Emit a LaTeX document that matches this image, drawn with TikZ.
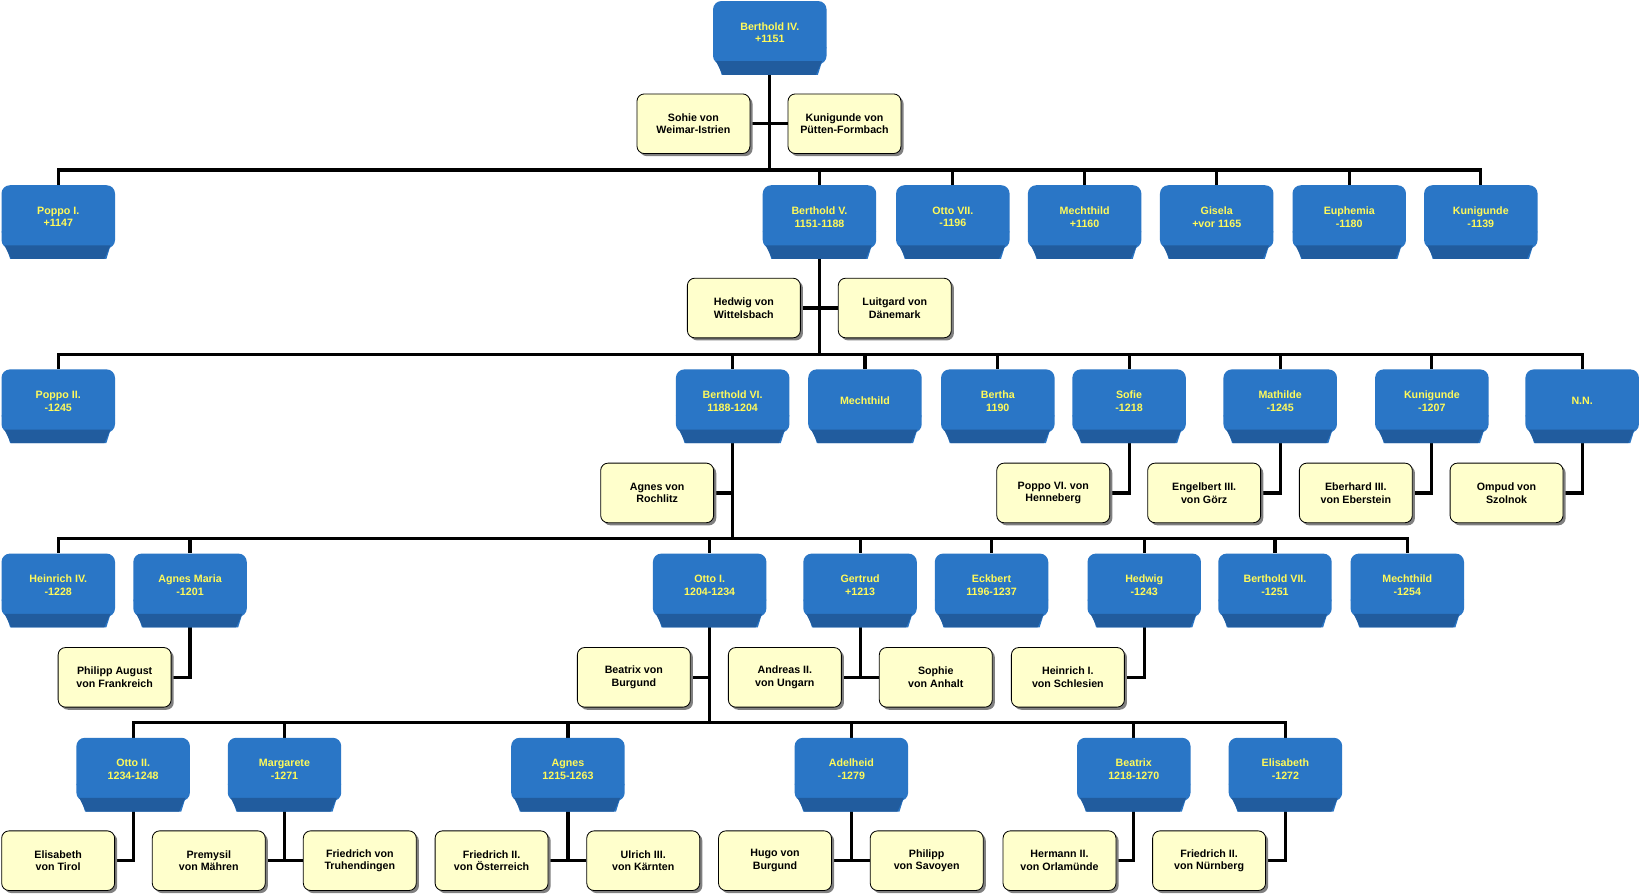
\documentclass[tikz,border=0pt]{standalone}
\usepackage{fontspec}
\setmainfont{Liberation Sans}
\usetikzlibrary{shadows,backgrounds}
\definecolor{pblue}{RGB}{42,118,198}
\definecolor{pdark}{RGB}{33,92,158}
\definecolor{pyel}{RGB}{255,250,90}
\definecolor{cream}{RGB}{255,255,204}
\definecolor{shgray}{RGB}{128,128,128}
\tikzset{
 txt/.style={font=\bfseries\fontsize{10.2}{12.2}\selectfont, align=center},
 pnode/.style={txt, rectangle, rounded corners=8pt, fill=pblue, minimum width=108.5pt, minimum height=60.4pt, inner sep=0pt, text=pyel},
 snode/.style={txt, rectangle, rounded corners=7pt, draw=black, line width=0.8pt, fill=cream, minimum width=108pt, minimum height=57pt, inner sep=0pt, text=black, drop shadow={shadow xshift=2.5pt, shadow yshift=-2.5pt, fill=shgray, opacity=1}},
 conn/.style={line width=3pt, black, line join=miter},
}
\newcommand\pp[4]{%
  \fill[pblue] ({#2-54.25},{#3+44}) -- ({#2+54.25},{#3+44}) -- ({#2+46},{#3+70.5}) -- ({#2-46},{#3+70.5}) -- cycle;
  \node[pnode] (#1) at (#2,{#3+30.2}) {#4};
  \fill[pdark] ({#2-51.5},{#3+57.5}) -- ({#2+50},{#3+57.5}) -- ({#2+44},{#3+70.5}) -- ({#2-45},{#3+70.5}) -- cycle;
  \coordinate (#1-b) at (#2,{#3+70});
}
\newcommand\spouse[4]{\node[snode] (#1) at (#2,{#3+29.3}) {#4};}
\begin{document}
\begin{tikzpicture}[x=1pt,y=-1pt]
\useasboundingbox (0,0) rectangle (1568,855.7);
\begin{scope}[on background layer]
\fill[white] (0,0) rectangle (1568,855.7);
\end{scope}
% row 0
\pp{b4}{736}{1}{Berthold IV.\\+1151}
\spouse{s01}{663}{89}{Sohie von\\Weimar-Istrien}
\spouse{s02}{807.4}{89}{Kunigunde von\\Pütten-Formbach}
% row 1
\pp{r1a}{55.7}{177.1}{Poppo I.\\+1147}
\pp{b5}{783.5}{177.1}{Berthold V.\\1151-1188}
\pp{r1c}{911}{177.1}{Otto VII.\\-1196}
\pp{r1d}{1037}{177.1}{Mechthild\\+1160}
\pp{r1e}{1163.3}{177.1}{Gisela\\+vor 1165}
\pp{r1f}{1290}{177.1}{Euphemia\\-1180}
\pp{r1g}{1415.8}{177.1}{Kunigunde\\-1139}
\spouse{s11}{711.2}{265.2}{Hedwig von\\Wittelsbach}
\spouse{s12}{855.5}{265.2}{Luitgard von\\Dänemark}
% row 2
\pp{r2a}{55.7}{353.2}{Poppo II.\\-1245}
\pp{b6}{700.5}{353.2}{Berthold VI.\\1188-1204}
\pp{r2c}{827}{353.2}{Mechthild}
\pp{r2d}{954}{353.2}{Bertha\\1190}
\pp{r2e}{1079.5}{353.2}{Sofie\\-1218}
\pp{r2f}{1224}{353.2}{Mathilde\\-1245}
\pp{r2g}{1369}{353.2}{Kunigunde\\-1207}
\pp{r2h}{1512.7}{353.2}{N.N.}
\spouse{s21}{628.3}{442}{Agnes von\\Rochlitz}
\spouse{s2e}{1007}{442}{Poppo VI. von\\Henneberg}
\spouse{s2f}{1151.3}{442}{Engelbert III.\\von Görz}
\spouse{s2g}{1296.3}{442}{Eberhard III.\\von Eberstein}
\spouse{s2h}{1440.4}{442}{Ompud von\\Szolnok}
% row 3
\pp{r3a}{55.7}{529.3}{Heinrich IV.\\-1228}
\pp{r3b}{181.7}{529.3}{Agnes Maria\\-1201}
\pp{o1}{678.5}{529.3}{Otto I.\\1204-1234}
\pp{r3d}{822.3}{529.3}{Gertrud\\+1213}
\pp{r3e}{948}{529.3}{Eckbert\\1196-1237}
\pp{r3f}{1094}{529.3}{Hedwig\\-1243}
\pp{r3g}{1219}{529.3}{Berthold VII.\\-1251}
\pp{r3h}{1345.5}{529.3}{Mechthild\\-1254}
\spouse{s3b}{109.6}{618.3}{Philipp August\\von Frankreich}
\spouse{s31}{606}{618.3}{Beatrix von\\Burgund}
\spouse{s3d1}{750.4}{618.3}{Andreas II.\\von Ungarn}
\spouse{s3d2}{894.7}{618.3}{Sophie\\von Anhalt}
\spouse{s3f}{1021}{618.3}{Heinrich I.\\von Schlesien}
% row 4
\pp{r4a}{127.3}{705.4}{Otto II.\\1234-1248}
\pp{r4b}{272}{705.4}{Margarete\\-1271}
\pp{r4c}{543}{705.4}{Agnes\\1215-1263}
\pp{r4d}{814}{705.4}{Adelheid\\-1279}
\pp{r4e}{1084}{705.4}{Beatrix\\1218-1270}
\pp{r4f}{1229}{705.4}{Elisabeth\\-1272}
\spouse{s4a}{55.6}{793.6}{Elisabeth\\von Tirol}
\spouse{s4b1}{199.6}{793.6}{Premysil\\von Mähren}
\spouse{s4b2}{344}{793.6}{Friedrich von\\Truhendingen}
\spouse{s4c1}{470}{793.6}{Friedrich II.\\von Österreich}
\spouse{s4c2}{615}{793.6}{Ulrich III.\\von Kärnten}
\spouse{s4d1}{741}{793.6}{Hugo von\\Burgund}
\spouse{s4d2}{886}{793.6}{Philipp\\von Savoyen}
\spouse{s4e}{1013}{793.6}{Hermann II.\\von Orlamünde}
\spouse{s4f}{1156}{793.6}{Friedrich II.\\von Nürnberg}
\coordinate (bus1) at (0,162.5);
\coordinate (bus2) at (0,338.8);
\coordinate (bus3) at (0,514.7);
\coordinate (bus4) at (0,690.6);
\begin{scope}[on background layer]
% generation 1
\foreach \c in {r1a,b5,r1c,r1d,r1e,r1f,r1g}
  \draw[conn] (b4-b) -- (b4-b |- bus1) -| (\c.north);
\draw[conn] (s01.east) -- (s02.west);
% generation 2
\foreach \c in {r2a,b6,r2c,r2d,r2e,r2f,r2g,r2h}
  \draw[conn] (b5-b) -- (b5-b |- bus2) -| (\c.north);
\draw[conn] (s11.east) -- (s12.west);
\draw[conn] (s21.east) -- (s21.east -| b6-b);
\draw[conn] (r2e-b) |- (s2e.east);
\draw[conn] (r2f-b) |- (s2f.east);
\draw[conn] (r2g-b) |- (s2g.east);
\draw[conn] (r2h-b) |- (s2h.east);
% generation 3
\foreach \c in {r3a,r3b,o1,r3d,r3e,r3f,r3g,r3h}
  \draw[conn] (b6-b) -- (b6-b |- bus3) -| (\c.north);
\draw[conn] (r3b-b) |- (s3b.east);
\draw[conn] (s31.east) -- (s31.east -| o1-b);
\draw[conn] (r3d-b) -- (r3d-b |- s3d1.east);
\draw[conn] (s3d1.east) -- (s3d2.west);
\draw[conn] (r3f-b) |- (s3f.east);
% generation 4
\foreach \c in {r4a,r4b,r4c,r4d,r4e,r4f}
  \draw[conn] (o1-b) -- (o1-b |- bus4) -| (\c.north);
\draw[conn] (r4a-b) |- (s4a.east);
\draw[conn] (r4b-b) -- (r4b-b |- s4b1.east);
\draw[conn] (s4b1.east) -- (s4b2.west);
\draw[conn] (r4c-b) -- (r4c-b |- s4c1.east);
\draw[conn] (s4c1.east) -- (s4c2.west);
\draw[conn] (r4d-b) -- (r4d-b |- s4d1.east);
\draw[conn] (s4d1.east) -- (s4d2.west);
\draw[conn] (r4e-b) |- (s4e.east);
\draw[conn] (r4f-b) |- (s4f.east);
\end{scope}
\end{tikzpicture}
\end{document}
